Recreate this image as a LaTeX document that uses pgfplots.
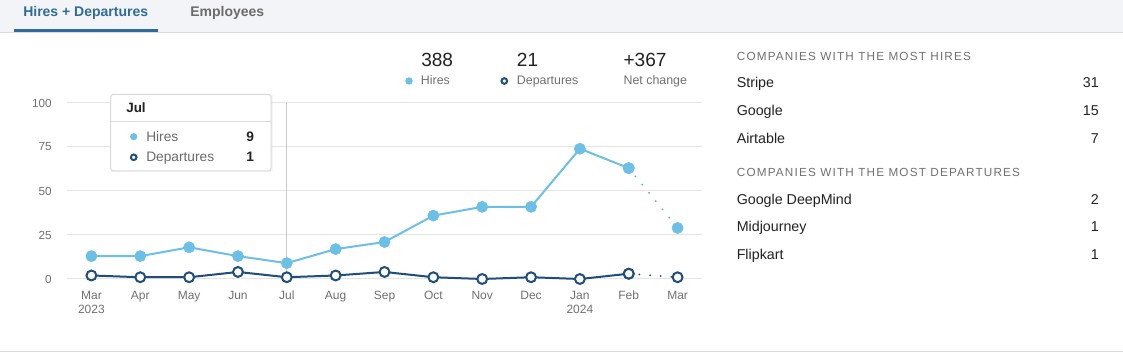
\documentclass[border=0pt]{standalone}
\usepackage{fontspec}
\setmainfont{Liberation Sans}
\newfontfamily\hdrfont[LetterSpace=10]{Liberation Sans}
\usepackage{pgfplots}
\pgfplotsset{compat=1.18}
\definecolor{hire}{HTML}{6CC0E6}
\definecolor{hiredot}{HTML}{5FA8CF}
\definecolor{dep}{HTML}{1F4E7A}
\definecolor{tabblue}{HTML}{2F6C99}
\definecolor{tabgray}{HTML}{6B6B6B}
\definecolor{topbg}{HTML}{F3F4F7}
\definecolor{bord}{HTML}{D8DADD}
\definecolor{gridc}{HTML}{E4E4E4}
\definecolor{ticktxt}{HTML}{707070}
\definecolor{txt}{HTML}{222222}
\definecolor{hdr}{HTML}{707070}
\definecolor{cursor}{HTML}{C8C8C8}
\newcommand\fs[1]{\fontsize{#1}{#1}\selectfont}
\pgfplotstableread{
x hires deps
0 13 2
1 13 1
2 18 1
3 13 4
4 9 1
5 17 2
6 21 4
7 36 1
8 41 0
9 41 1
10 74 0
11 63 3
}\solid
\pgfplotstableread{
x hires deps
11 63 3
12 29 1
}\partial
\begin{document}
\begin{tikzpicture}[x=0.75pt,y=-0.75pt]
\fill[white] (0,0) rectangle (1123,352);
\useasboundingbox (0,0) rectangle (1123,352);
\fill[topbg] (0,0) rectangle (1123,32.5);
\draw[bord, line width=0.75pt] (0,32.5) -- (1123,32.5);
\draw[bord, line width=0.75pt] (0,351.3) -- (1123,351.3);
\fill[tabblue] (14,29.3) rectangle (158,32.3);
\node[anchor=base west, inner sep=0, text=tabblue, font=\fs{10.5pt}\bfseries] at (23,16.7) {Hires + Departures};
\node[anchor=base west, inner sep=0, text=tabgray, font=\fs{10.5pt}\bfseries] at (190,16.7) {Employees};

\coordinate (ax) at (67,279);
\begin{axis}[at={(ax)}, anchor=south west, scale only axis,
  width=476.25pt, height=132pt,
  xmin=-0.5, xmax=12.5, ymin=0, ymax=100,
  axis line style={draw=none}, major tick length=0pt,
  ymajorgrids, grid style={gridc, line width=0.75pt},
  ytick={0,25,50,75,100},
  /pgf/number format/assume math mode=true,
  xtick={0,...,12},
  xticklabels={{Mar\\2023},Apr,May,Jun,Jul,Aug,Sep,Oct,Nov,Dec,{Jan\\2024},Feb,Mar},
  xticklabel style={align=center, anchor=north, inner sep=0pt, yshift=-8.8pt,
    font=\fontsize{9pt}{11pt}\selectfont, text=ticktxt},
  yticklabel style={anchor=east, inner sep=0pt, xshift=-11.25pt,
    font=\fs{8.8pt}, text=ticktxt},
  clip=false]
\draw[cursor, line width=0.75pt] (axis cs:4,0) -- (axis cs:4,100);
\addplot[hiredot, line width=1.5pt, dash pattern=on 0pt off 8pt, line cap=round, forget plot] table[x=x,y=hires] {\partial};
\addplot[hire, line width=1.5pt, mark=*, mark size=4.2pt, mark options={fill=hire, draw=hire, line width=0.4pt, solid}] table[x=x,y=hires] {\solid};
\addplot[only marks, mark=*, mark size=4.2pt, mark options={fill=hire, draw=hire, line width=0.4pt, solid}] table[x=x,y=hires] {\partial};
\addplot[dep, line width=1.5pt, dash pattern=on 0pt off 8pt, line cap=round, forget plot] table[x=x,y=deps] {\partial};
\addplot[dep, line width=1.5pt, mark=*, mark size=3.7pt, mark options={fill=white, draw=dep, solid}] table[x=x,y=deps] {\solid};
\addplot[only marks, dep, line width=1.5pt, mark=*, mark size=3.7pt, mark options={fill=white, draw=dep, solid}] table[x=x,y=deps] {\partial};
\end{axis}

% tooltip
\fill[black, opacity=0.04] (111.7,95.3) rectangle (272.5,172.5);
\draw[bord, fill=white, line width=0.75pt, rounded corners=2pt] (110.7,94.3) rectangle (271,171);
\draw[bord, line width=0.75pt] (110.7,122) -- (271,122);
\node[anchor=base west, inner sep=0, text=txt, font=\fs{10.1pt}\bfseries] at (126,112.7) {Jul};
\fill[hire] (133.7,136.7) circle (2.7pt);
\draw[dep, fill=white, line width=1.5pt] (133.7,157.3) circle (2.1pt);
\node[anchor=base west, inner sep=0, text=tabgray, font=\fs{10.3pt}] at (146,141.7) {Hires};
\node[anchor=base west, inner sep=0, text=tabgray, font=\fs{10.3pt}] at (146,161.7) {Departures};
\node[anchor=base east, inner sep=0, text=txt, font=\fs{10.3pt}\bfseries] at (254.3,141.7) {9};
\node[anchor=base east, inner sep=0, text=txt, font=\fs{10.3pt}\bfseries] at (254.3,161.7) {1};

% summary legend
\node[anchor=base west, inner sep=0, text=txt, font=\fs{14.3pt}] at (421,66.7) {388};
\node[anchor=base west, inner sep=0, text=txt, font=\fs{14.3pt}] at (516.7,66.7) {21};
\node[anchor=base west, inner sep=0, text=txt, font=\fs{14.3pt}] at (623.3,66.7) {+367};
\fill[hire] (409,81) circle (2.8pt);
\draw[dep, fill=white, line width=1.5pt] (504.3,81) circle (2.1pt);
\node[anchor=base west, inner sep=0, text=ticktxt, font=\fs{9.3pt}] at (420.7,85) {Hires};
\node[anchor=base west, inner sep=0, text=ticktxt, font=\fs{9.3pt}] at (516.7,85) {Departures};
\node[anchor=base west, inner sep=0, text=ticktxt, font=\fs{9.3pt}] at (623.3,85) {Net change};

% right panel
\node[anchor=base west, inner sep=0, text=hdr, font=\hdrfont\fs{8.8pt}] at (736.7,60.7) {COMPANIES WITH THE MOST HIRES};
\node[anchor=base west, inner sep=0, text=txt, font=\fs{10.7pt}] at (736.5,87.7) {Stripe};
\node[anchor=base west, inner sep=0, text=txt, font=\fs{10.7pt}] at (736.5,115.7) {Google};
\node[anchor=base west, inner sep=0, text=txt, font=\fs{10.7pt}] at (736.5,143.7) {Airtable};
\node[anchor=base east, inner sep=0, text=txt, font=\fs{10.7pt}] at (1099,87.7) {31};
\node[anchor=base east, inner sep=0, text=txt, font=\fs{10.7pt}] at (1099,115.7) {15};
\node[anchor=base east, inner sep=0, text=txt, font=\fs{10.7pt}] at (1099,143.7) {7};
\node[anchor=base west, inner sep=0, text=hdr, font=\hdrfont\fs{8.8pt}] at (736.7,176.7) {COMPANIES WITH THE MOST DEPARTURES};
\node[anchor=base west, inner sep=0, text=txt, font=\fs{10.7pt}] at (736.5,204.3) {Google DeepMind};
\node[anchor=base west, inner sep=0, text=txt, font=\fs{10.7pt}] at (736.5,232) {Midjourney};
\node[anchor=base west, inner sep=0, text=txt, font=\fs{10.7pt}] at (736.5,260) {Flipkart};
\node[anchor=base east, inner sep=0, text=txt, font=\fs{10.7pt}] at (1099,204.3) {2};
\node[anchor=base east, inner sep=0, text=txt, font=\fs{10.7pt}] at (1099,232) {1};
\node[anchor=base east, inner sep=0, text=txt, font=\fs{10.7pt}] at (1099,260) {1};
\end{tikzpicture}
\end{document}
